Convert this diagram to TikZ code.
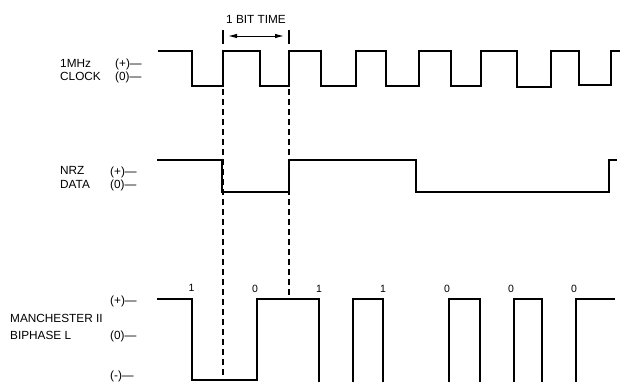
\documentclass[tikz,border=0pt]{standalone}
\usepackage{fontspec}
\setmainfont{Liberation Sans}
\usetikzlibrary{arrows.meta}
\begin{document}
\begin{tikzpicture}[x=1pt,y=-1pt,
  sig/.style={line width=1.6pt, line join=miter},
  guide/.style={line width=1.3pt, dash pattern=on 6pt off 4pt},
  lbl/.style={font=\fontsize{11.8}{13}\selectfont, anchor=base west, inner sep=0pt},
  bitlbl/.style={font=\fontsize{10.5}{12}\selectfont, anchor=base, inner sep=0pt},
  tick/.style={line width=1.2pt}]
\useasboundingbox (0,0) rectangle (620,381);

% ---- Bit time marker
\node[font=\fontsize{11.8}{13}\selectfont, inner sep=0pt] (bt) at (256,19) {1 BIT TIME};
\coordinate (t1a) at (223,30); \coordinate (t1b) at (223,44);
\coordinate (t2a) at (289,30); \coordinate (t2b) at (289,44);
\draw[tick] (t1a) -- (t1b);
\draw[tick] (t2a) -- (t2b);
\coordinate (arL) at (228,36); \coordinate (arR) at (284,36);
\draw[line width=1pt, {Latex[length=9pt,width=4.5pt]}-{Latex[length=9pt,width=4.5pt]}] (arL) -- (arR);

% ---- Clock labels
\node[lbl] (mhz) at (60,67) {1MHz};
\node[lbl] (clk) at (60,80) {CLOCK};
\node[lbl] (cp) at (115,67) {(+)—};
\node[lbl] (cz) at (115,80) {(0)—};

% ---- Clock signal
\draw[sig] (158,51) -- (192,51) -- (192,86) -- (223,86) -- (223,51) -- (260,51) -- (260,86)
  -- (289,86) -- (289,51) -- (321,51) -- (321,86) -- (356,86) -- (356,51) -- (386,51)
  -- (386,86) -- (419,86) -- (419,51) -- (451,51) -- (451,86) -- (481,86) -- (481,51)
  -- (517,51) -- (517,87) -- (551,87) -- (551,51) -- (579,51) -- (579,85) -- (611,85)
  -- (611,51) -- (620,51);

% ---- NRZ labels
\node[lbl] (nrz) at (60,174) {NRZ};
\node[lbl] (dat) at (60,188.5) {DATA};
\node[lbl] (np) at (110,175) {(+)—};
\node[lbl] (nz) at (110,188.5) {(0)—};

% ---- NRZ signal
\draw[sig] (157,160) -- (222,160) -- (222,192) -- (289,192) -- (289,160) -- (416,160)
  -- (416,192) -- (609,192) -- (609,160) -- (617,160);

% ---- Manchester labels
\node[lbl] (mp) at (110,304) {(+)—};
\node[lbl] (man) at (10,322.7) {MANCHESTER II};
\node[lbl] (bip) at (10,339) {BIPHASE L};
\node[lbl] (mz) at (110,339) {(0)—};
\node[lbl] (mm) at (110,379) {(-)—};

% ---- Manchester signal
\draw[sig] (157,299) -- (192,299) -- (192,380) -- (257,380) -- (257,299) -- (319,299)
  -- (319,383) -- (353,383) -- (353,299) -- (383,299) -- (383,383) -- (449,383)
  -- (449,299) -- (480,299) -- (480,382.3) -- (514,382.3) -- (514,299) -- (542,299)
  -- (542,382.3) -- (576,382.3) -- (576,299) -- (615,299);

% ---- Bit values
\node[bitlbl] (b1) at (191.5,291.5) {1};
\node[bitlbl] (b2) at (255,292) {0};
\node[bitlbl] (b3) at (319,292) {1};
\node[bitlbl] (b4) at (383,292) {1};
\node[bitlbl] (b5) at (447,292) {0};
\node[bitlbl] (b6) at (511,292) {0};
\node[bitlbl] (b7) at (574,292) {0};

% ---- Dashed guide lines
\coordinate (g1a) at (223,89); \coordinate (g1b) at (223,381);
\coordinate (g2a) at (289,89); \coordinate (g2b) at (289,298);
\draw[guide] (g1a) -- (g1b);
\draw[guide] (g2a) -- (g2b);
\end{tikzpicture}
\end{document}
